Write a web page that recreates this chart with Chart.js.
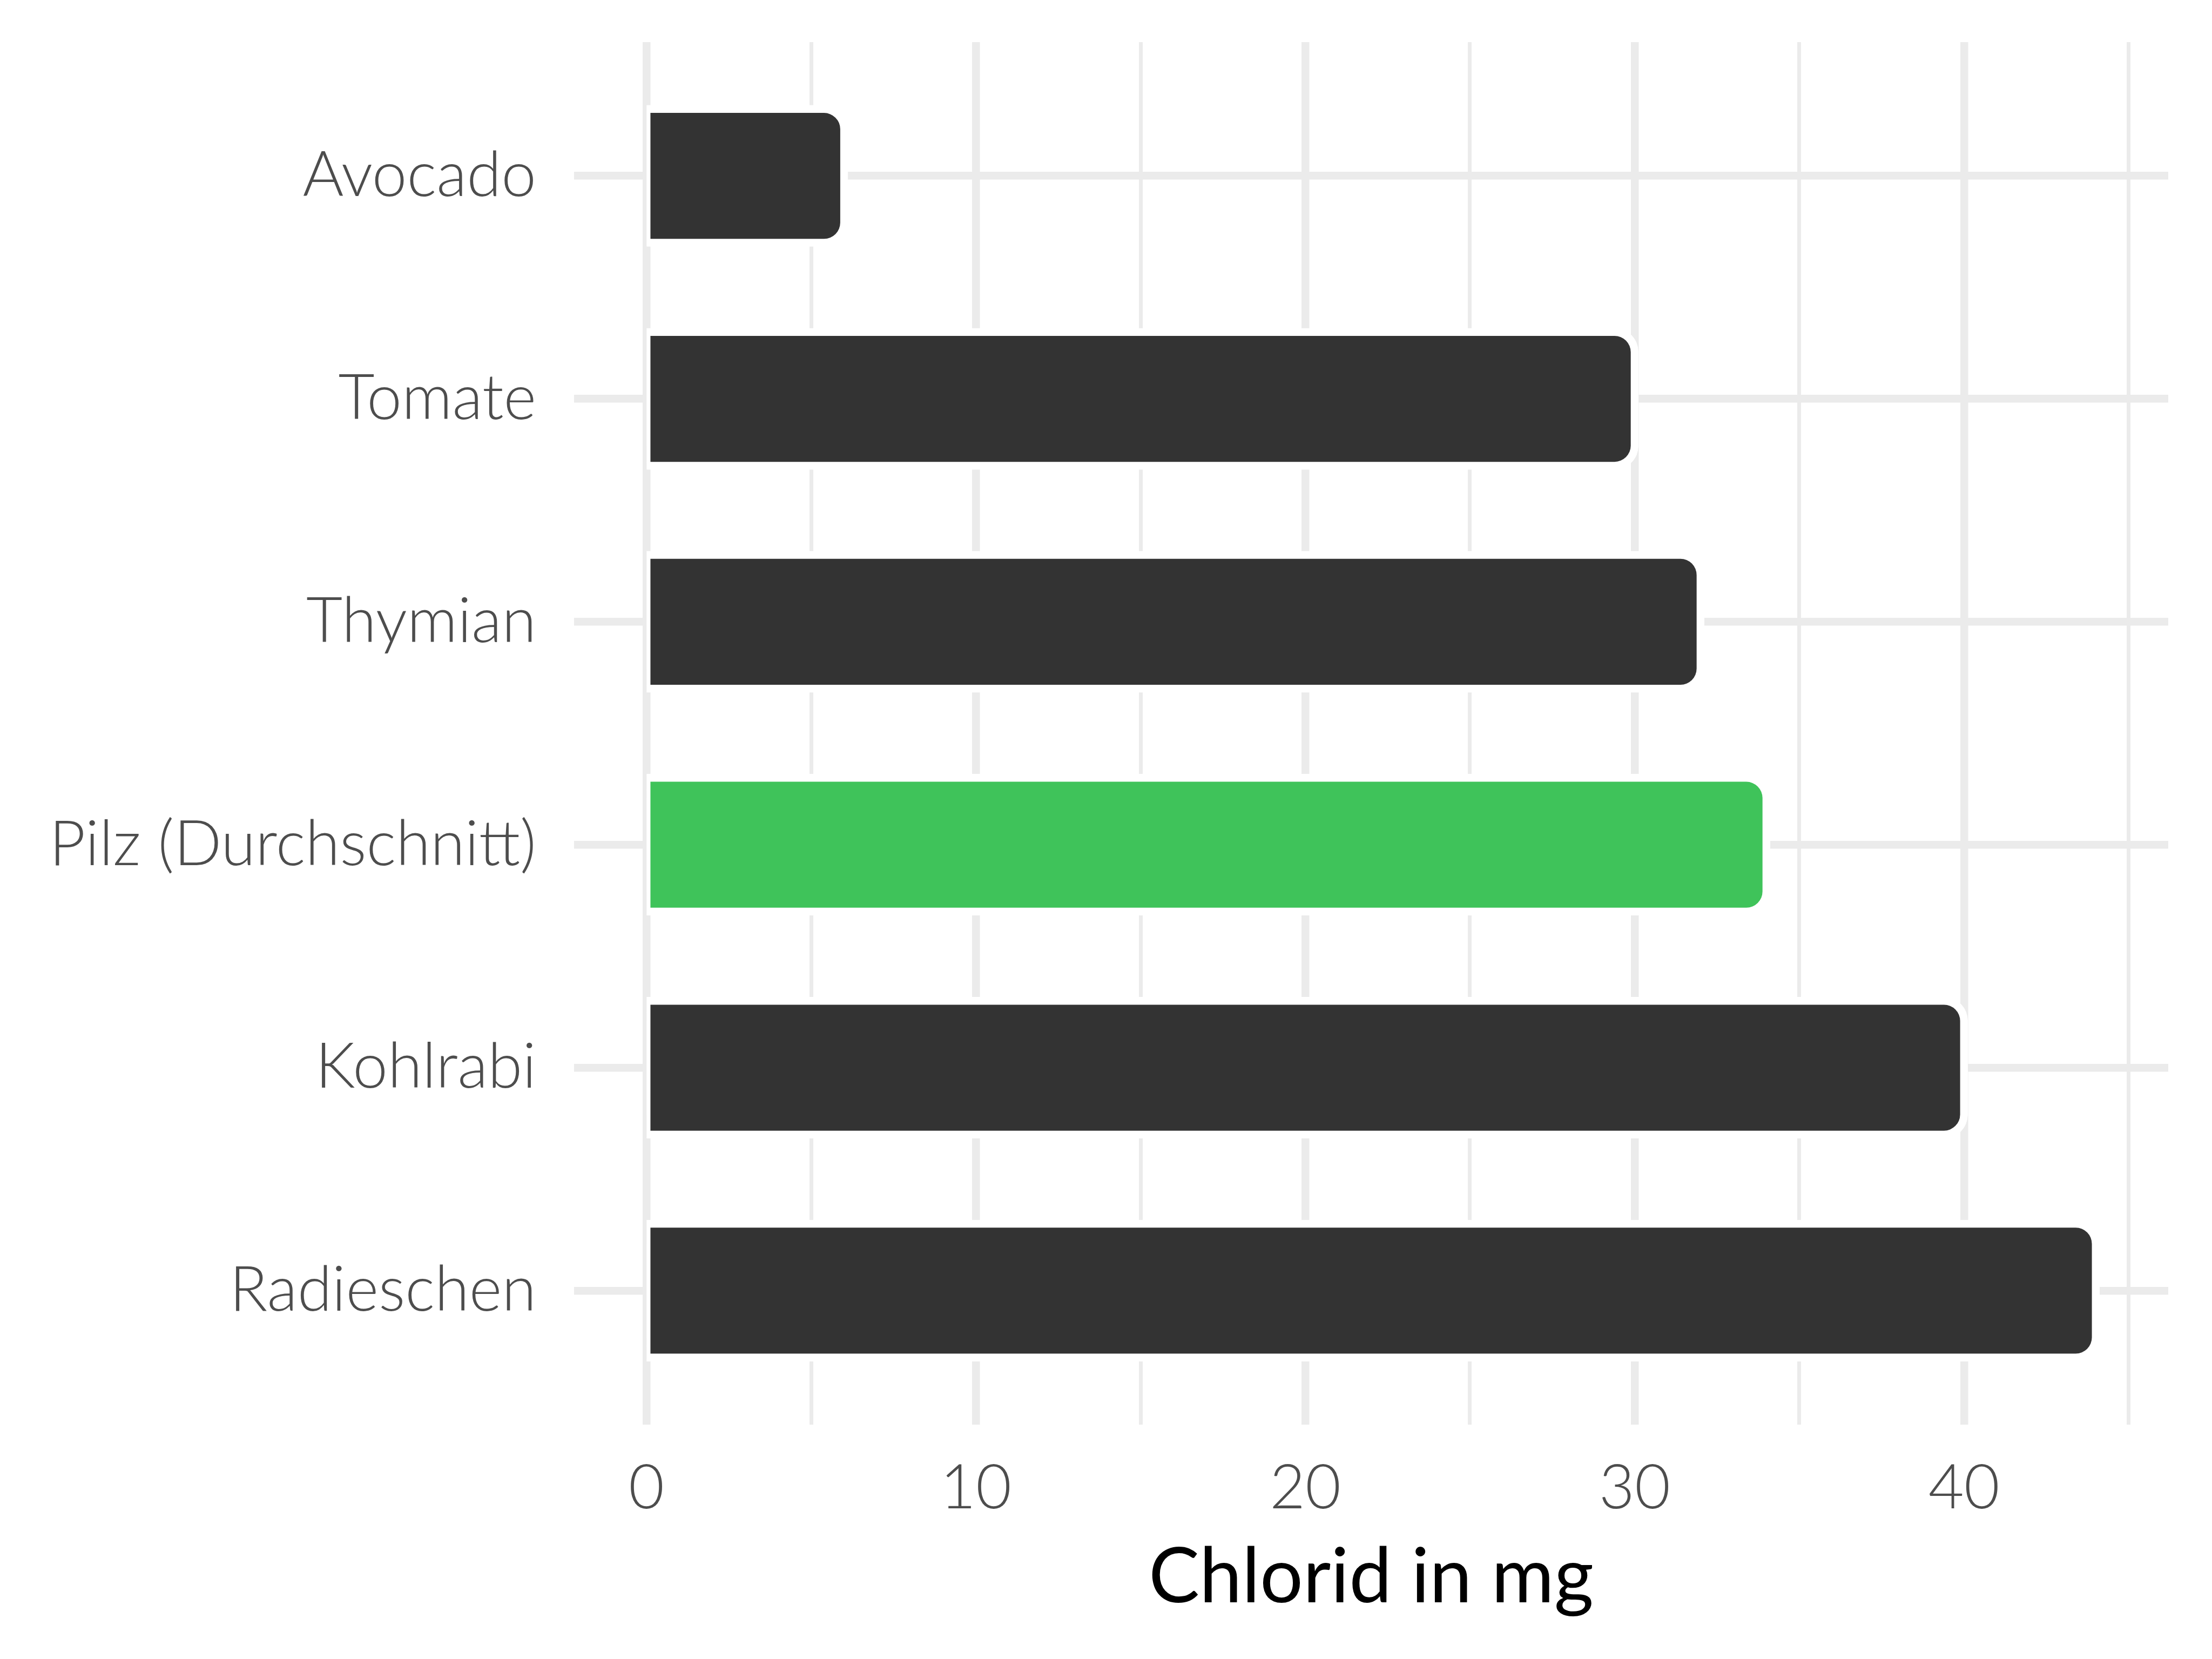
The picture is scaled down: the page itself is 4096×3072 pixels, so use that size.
<!DOCTYPE html>
<html>
<head>
<meta charset="utf-8">
<title>Chlorid in mg</title>
<script src="https://cdn.jsdelivr.net/npm/chart.js@4.4.1/dist/chart.umd.min.js"></script>
<style>
  html, body { margin: 0; padding: 0; background: #fff; }
  #wrap { width: 4096px; height: 3072px; }
</style>
</head>
<body>
<div id="wrap"><canvas id="chart" width="4096" height="3072"></canvas></div>
<script>
// Chlorid pro 100 g, horizontal bars, Pilz highlighted

const categories = ['Avocado', 'Tomate', 'Thymian', 'Pilz (Durchschnitt)', 'Kohlrabi', 'Radieschen'];
const chloridValues = [6, 30, 32, 34, 40, 44];
const highlighted = 'Pilz (Durchschnitt)';
const xTickLabels = [0, 10, 20, 30, 40];

const barColor = '#333333';
const highlightColor = '#3fc35a';
const gridColor = '#ebebeb';
const textColor = '#4d4d4d';
const fontFamily = 'Lato, "Open Sans", sans-serif';

// plot box, in page pixels
const plotLeft = 1063;
const plotBottom = 2637.6;

function buildData() {
  return categories.map((c, i) => ({ x: chloridValues[i], y: i + 1 }));
}

const ctx = document.getElementById('chart').getContext('2d');

new Chart(ctx, {
  type: 'bar',
  data: {
    datasets: [{
      data: buildData(),
      backgroundColor: categories.map(c => c === highlighted ? highlightColor : barColor),
      // white outline centred on the bar edge, like the ggplot stroke
      borderColor: '#ffffff',
      borderWidth: { top: 14.5, right: 14.5, bottom: 14.5, left: 7.25 },
      inflateAmount: 7.25,
      borderRadius: { topLeft: 0, bottomLeft: 0, topRight: 44.5, bottomRight: 44.5 },
      borderSkipped: false,
      barPercentage: 0.6,
      categoryPercentage: 1
    }]
  },
  options: {
    indexAxis: 'y',
    responsive: false,
    animation: false,
    devicePixelRatio: 1,
    layout: { padding: { top: 78, right: 81, left: 0, bottom: 0 } },
    plugins: {
      legend: { display: false },
      tooltip: { enabled: false }
    },
    scales: {
      x: {
        type: 'linear',
        min: -2.2,
        max: 46.2,
        border: { display: false },
        grid: {
          color: gridColor,
          drawTicks: false,
          lineWidth: c => (c.tick && c.tick.value % 10 === 0) ? 14.5 : 7
        },
        ticks: {
          stepSize: 5,
          includeBounds: false,
          autoSkip: false,
          maxRotation: 0,
          padding: 50,
          color: textColor,
          font: { family: fontFamily, size: 114, weight: 300 },
          callback: v => xTickLabels.includes(v) ? String(v) : ''
        },
        title: {
          display: true,
          text: 'Chlorid in mg',
          color: '#000000',
          font: { family: fontFamily, size: 141, weight: 400 },
          padding: { top: 0, bottom: 66 }
        },
        afterFit: scale => {
          scale.height = 3072 - plotBottom;
          scale.paddingLeft = 0;
          scale.paddingRight = 0;
        }
      },
      y: {
        type: 'linear',
        reverse: true,
        offset: false,
        min: 0.4,
        max: 6.6,
        border: { display: false },
        grid: {
          color: gridColor,
          lineWidth: 14.5,
          drawTicks: false,
          offset: false
        },
        ticks: {
          stepSize: 1,
          includeBounds: false,
          autoSkip: false,
          padding: 70,
          color: textColor,
          font: { family: fontFamily, size: 116, weight: 300 },
          callback: v => categories[v - 1] || ''
        },
        afterFit: scale => {
          scale.width = plotLeft;
          scale.paddingTop = 0;
          scale.paddingBottom = 0;
        }
      }
    }
  }
});
</script>
</body>
</html>
